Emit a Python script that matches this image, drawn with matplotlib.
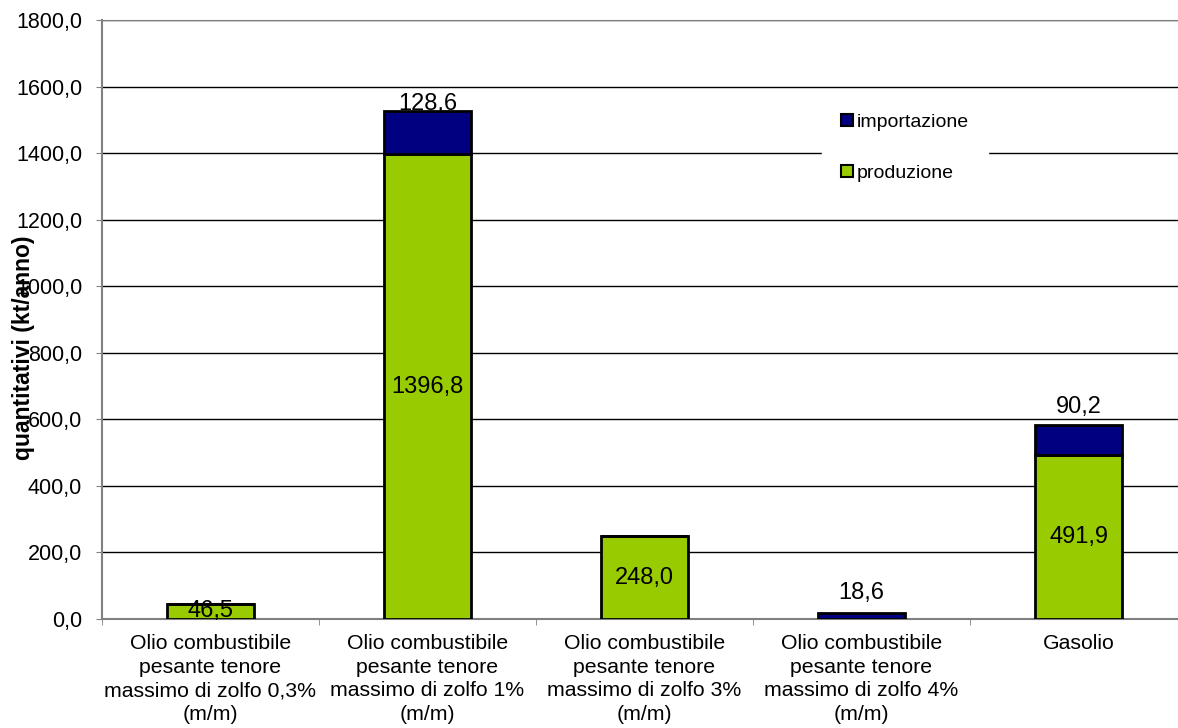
import numpy as np
import matplotlib.pyplot as plt

# DATA
categories = [
    'Olio combustibile\npesante tenore\nmassimo di zolfo 0,3%\n(m/m)',
    'Olio combustibile\npesante tenore\nmassimo di zolfo 1%\n(m/m)',
    'Olio combustibile\npesante tenore\nmassimo di zolfo 3%\n(m/m)',
    'Olio combustibile\npesante tenore\nmassimo di zolfo 4%\n(m/m)',
    'Gasolio',
]
produzione = [46.5, 1396.8, 248.0, 0.0, 491.9]
importazione = [0.0, 128.6, 0.0, 18.6, 90.2]
# label offset above the bar top (points), as placed in the original
imp_offsets = [0, 5.5, 0, 14.5, 13]

def fmt(v):
    return ('%.1f' % v).replace('.', ',')

plt.rcParams['font.family'] = ['Liberation Sans', 'DejaVu Sans']

fig = plt.figure(figsize=(11.78, 7.28), dpi=100)
W, H = 1178, 728
left, right, top, bottom = 102, 1187, 20, 619
ax = fig.add_axes([left / W, 1 - bottom / H, (right - left) / W, (bottom - top) / H])

x = np.arange(len(categories))
bw = 0.40
green = '#99CC00'
navy = '#000080'

ax.bar(x, produzione, bw, color=green, edgecolor='black', linewidth=2,
       label='produzione', zorder=3)
ax.bar(x, importazione, bw, bottom=produzione, color=navy, edgecolor='black',
       linewidth=2, label='importazione', zorder=3)

# labels
for i in range(len(categories)):
    if produzione[i] > 0:
        ax.text(x[i], produzione[i] / 2, fmt(produzione[i]), ha='center',
                va='center', fontsize=17, zorder=5)
    if importazione[i] > 0:
        ax.annotate(fmt(importazione[i]), (x[i], produzione[i] + importazione[i]),
                    xytext=(0, imp_offsets[i]), textcoords='offset points',
                    ha='center', va='center', fontsize=17, zorder=5)

ax.set_xlim(-0.5, len(categories) - 0.5)
ax.set_ylim(0, 1800)
yt = np.arange(0, 1801, 200)
ax.set_yticks(yt)
ax.set_yticklabels([fmt(v) for v in yt], fontsize=15.5)
ax.yaxis.grid(True, color='black', linewidth=1, zorder=0)
ax.set_axisbelow(True)

ax.set_xticks(x)
ax.set_xticklabels(categories, fontsize=15.3, linespacing=1.3)
ax.set_xticks(np.arange(-0.5, len(categories), 1), minor=True)
ax.tick_params(axis='x', which='major', length=0, pad=11)
ax.tick_params(axis='x', which='minor', length=4.5, color='#808080')
ax.tick_params(axis='y', length=4.3, color='#808080', pad=10)

ax.spines['right'].set_visible(False)
ax.spines['top'].set_color('#808080')
ax.spines['left'].set_color('#808080')
ax.spines['bottom'].set_color('#808080')
ax.spines['left'].set_linewidth(1.5)
ax.spines['bottom'].set_linewidth(1.5)

fig.text(24 / W, 1 - 348 / H, 'quantitativi (kt/anno)', rotation=90,
         ha='center', va='center', fontsize=16.5, fontweight='bold')

handles, labs = ax.get_legend_handles_labels()
leg = ax.legend(handles[::-1], labs[::-1], loc='center',
                bbox_to_anchor=((905 - left) / (right - left), 1 - (148 - top) / (bottom - top)),
                frameon=True, fontsize=14, handlelength=0.6, handleheight=0.6,
                handletextpad=0.2, labelspacing=1.75, borderpad=1.0,
                borderaxespad=0)
leg.get_frame().set_edgecolor('white')
leg.get_frame().set_facecolor('white')
leg.get_frame().set_alpha(1)
leg.get_frame().set_boxstyle('square', pad=0)
for h in leg.legend_handles:
    h.set_linewidth(1.5)
leg.set_zorder(6)

plt.savefig('out.png', dpi=100)
